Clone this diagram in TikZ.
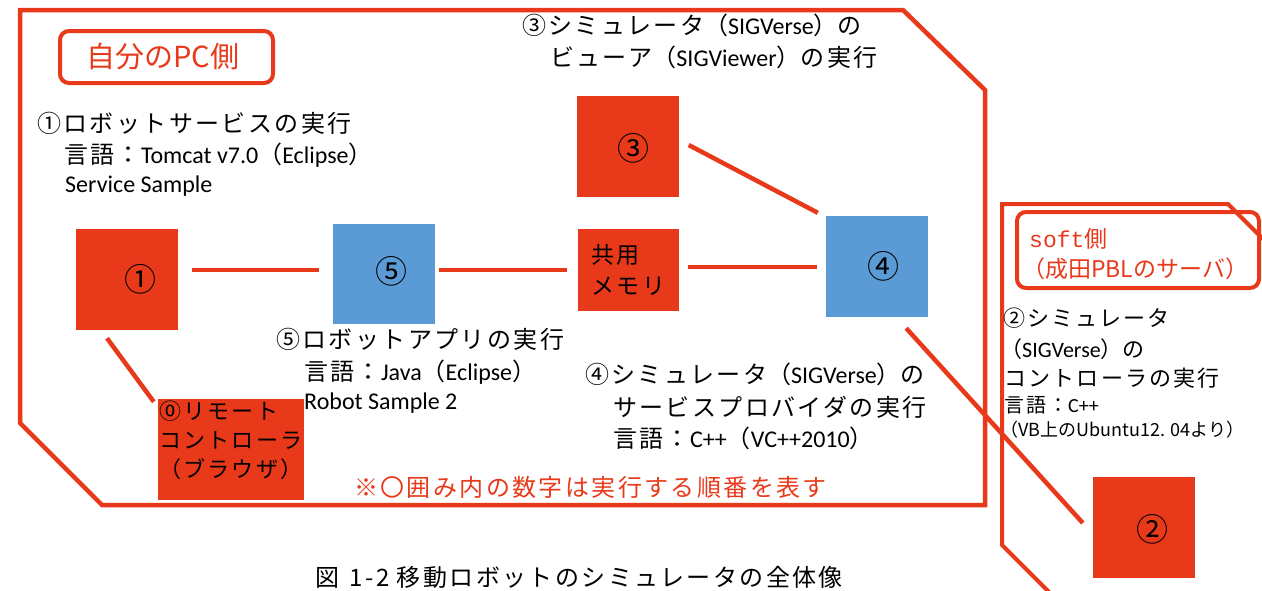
\documentclass[tikz,border=0pt]{standalone}
\usepackage{fontspec}
\setmainfont{Noto Sans CJK JP}
\newfontfamily\jp[LetterSpace=10]{Noto Sans CJK JP}
\newfontfamily\jpn{Noto Sans CJK JP}
\newfontfamily\lt{Carlito}
\newfontfamily\gm{Liberation Mono}
\newcommand\La[1]{{\lt #1}}
\usetikzlibrary{calc}
\definecolor{rd}{HTML}{E8391A}
\definecolor{bl}{HTML}{5B9BD5}
\tikzset{
  frame/.style={draw=rd, line width=4.5pt, line join=miter},
  tagbox/.style={draw=rd, line width=4pt, rounded corners=9pt},
  redsq/.style={fill=rd, draw=none, inner sep=0, minimum width=102pt, minimum height=101pt},
  bluesq/.style={fill=bl, draw=none, inner sep=0, minimum width=102pt, minimum height=101pt},
  conn/.style={draw=rd, line width=4.5pt},
  lbl/.style={anchor=west, inner sep=0, font=\fontsize{24}{28}\selectfont},
  num/.style={font=\jpn\fontsize{32}{36}\selectfont},
}
\begin{document}
\begin{tikzpicture}[x=1pt,y=-1pt]
\useasboundingbox (0,0) rectangle (1262,590);
\begin{scope}
\clip (0,0) rectangle (1262,590);
% left frame
\draw[frame] (20,10) -- (903,10) -- (985,90) -- (985,505) -- (102,505) -- (20,423) -- cycle;
% right frame
\draw[frame, line width=4pt] (1060,603) -- (1002,545) -- (1002,204) -- (1228,204) -- (1290,266);
\end{scope}
% tag boxes
\draw[tagbox] (60,31) rectangle (273,83);
\node[anchor=west, inner sep=0, text=rd, font=\jpn\fontsize{29}{32}\selectfont] (tagpc) at (86,57) {自分のPC側};
\draw[tagbox] (1017,212) rectangle (1259,288);
\node[anchor=west, inner sep=0, text=rd, font=\fontsize{23}{26}\selectfont] (tagsoft1) at (1029,239) {{\gm soft}{\jpn 側}};
\node[anchor=west, inner sep=0, text=rd, font=\jpn\fontsize{23}{26}\selectfont] (tagsoft2) at (1022,269) {（成田PBLのサーバ）};

% squares
\node[redsq, label={[num, xshift=13pt]center:①}] (s1) at (127,279.5) {};
\node[bluesq, minimum height=100pt, label={[num, xshift=8pt, yshift=3pt]center:⑤}] (s5) at (383.5,274) {};
\node[redsq, label={[num, xshift=6pt, yshift=-2pt]center:③}] (s3) at (627.5,146.5) {};
\node[bluesq, label={[num, xshift=6pt]center:④}] (s4) at (877,266.5) {};
\node[redsq, label={[num, xshift=8pt, yshift=-2pt]center:②}] (s2) at (1144,527.5) {};
\node[redsq, minimum width=101pt, minimum height=82pt, align=left, font=\jp\fontsize{23}{31}\selectfont] (sm) at (628.5,270) {共用\\メモリ};
\node[redsq, minimum width=146pt, minimum height=101pt] (s0) at (231,449.5) {};
\node[anchor=north west, inner sep=0, align=left, font=\jp\fontsize{22}{29}\selectfont] (s0t) at (159,401) {⓪リモート\\コントローラ\\（ブラウザ）};

% connectors
\draw[conn] ($(s1.east)+(14,-9.5)$) -- ($(s5.west)+(-13,-4)$);
\draw[conn] ($(s5.east)+(4,-4)$) -- ($(sm.west)+(-11,0)$);
\draw[conn] ($(sm.east)+(9,-3)$) -- ($(s4.west)+(-9,0.5)$);
\draw[conn] ($(s3.east)+(10,-1.5)$) -- ($(s4.north west)+(-8,-3)$);
\draw[conn] ($(s1.south)+(-20,8)$) -- ($(s0.north west)+(-4,3)$);
\draw[conn] ($(s4.south east)+(-22,11)$) -- ($(s2.west)+(-10,-4.5)$);

% labels
\node[lbl] (t1a) at (37,123) {\jp ①ロボットサービスの実行};
\node[lbl] (t1b) at (64,155) {{\jp 言語：}\La{Tomcat v7.0}{\jpn （}\La{Eclipse}{\jpn ）}};
\node[lbl] (t1c) at (65,186) {\La{Service Sample}};

\node[lbl] (t3a) at (522,25) {{\jp ③シミュレータ}{\jpn （}\La{SIGVerse}{\jpn ）}{\jp の}};
\node[lbl] (t3b) at (550,57) {{\jp ビューア}{\jpn （}\La{SIGViewer}{\jpn ）}{\jp の実行}};

\node[lbl] (t5a) at (276,339) {\jp ⑤ロボットアプリの実行};
\node[lbl] (t5b) at (304,372) {{\jp 言語：}\La{Java}{\jpn （}\La{Eclipse}{\jpn ）}};
\node[lbl] (t5c) at (304,403) {\La{Robot Sample 2}};

\node[lbl] (t4a) at (585,374) {{\jp ④シミュレータ}{\jpn （}\La{SIGVerse}{\jpn ）}{\jp の}};
\node[lbl] (t4b) at (613,407) {\jp サービスプロバイダの実行};
\node[lbl] (t4c) at (613,438) {{\jp 言語：}\La{C++}{\jpn （}\La{VC++2010}{\jpn ）}};

\node[lbl, text=rd] (note) at (354,487) {\jp ※〇囲み内の数字は実行する順番を表す};

\node[lbl, font=\fontsize{22}{26}\selectfont] (t2a) at (1003,318) {\jp ②シミュレータ};
\node[lbl, font=\fontsize{22}{26}\selectfont] (t2b) at (1000,349) {{\jpn （}\La{SIGVerse}{\jpn ）}{\jp の}};
\node[lbl, font=\fontsize{22}{26}\selectfont] (t2c) at (1004,378) {\jp コントローラの実行};
\node[lbl, font=\fontsize{20}{24}\selectfont] (t2d) at (1004,405) {{\jp 言語：}\La{C++}};
\node[lbl, font=\jpn\fontsize{18}{22}\selectfont] (t2e) at (1000,430) {（VB上のUbuntu12. 04より）};

\node[lbl, font=\jp\fontsize{24}{28}\selectfont] (cap) at (315,577) {図\hspace{0.45em}1-2\hspace{0.3em}移動ロボットのシミュレータの全体像};
\end{tikzpicture}
\end{document}
